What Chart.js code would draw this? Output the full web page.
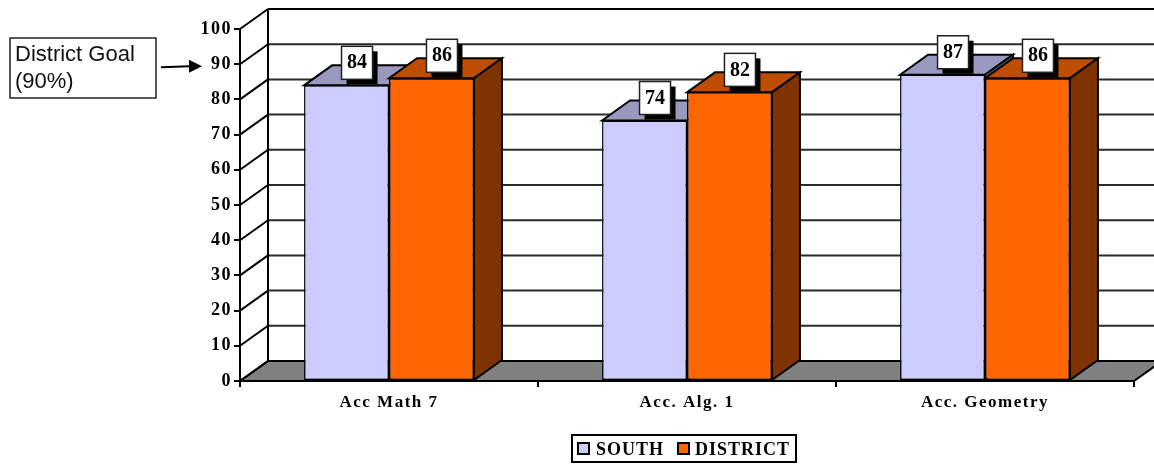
<!DOCTYPE html>
<html>
<head>
<meta charset="utf-8">
<style>
  html, body { margin: 0; padding: 0; background: #fff; }
  canvas { display: block; }
</style>
<script src="https://cdn.jsdelivr.net/npm/chart.js@4"></script>
</head>
<body>
<canvas id="chart" width="1154" height="464"></canvas>
<script>
const categories = ['Acc Math 7', 'Acc. Alg. 1', 'Acc. Geometry'];
const southValues = [84, 74, 87];
const districtValues = [86, 82, 86];
const goalValue = 90;
const goalLines = ['District Goal', '(90%)'];

const depthX = 28;
const depthY = 20;
const serif = '"Liberation Serif", serif';

function poly(ctx, pts, fill) {
  ctx.beginPath();
  pts.forEach((p, i) => (i ? ctx.lineTo(p[0], p[1]) : ctx.moveTo(p[0], p[1])));
  ctx.closePath();
  if (fill) {
    ctx.fillStyle = fill;
    ctx.fill();
  }
  ctx.stroke();
}

// 3D 벽, 바닥, 막대 옆면
const depthPlugin = {
  id: 'depth',
  beforeDraw(chart) {
    chart.ctx.letterSpacing = '1.5px';
  },
  beforeDatasetsDraw(chart) {
    const { ctx, chartArea: a, scales } = chart;
    const y = scales.y;
    ctx.save();
    ctx.letterSpacing = '0px';
    ctx.strokeStyle = '#000';
    ctx.lineWidth = 2;

    poly(ctx, [
      [a.left, a.bottom],
      [a.left + depthX, a.bottom - depthY],
      [a.right + depthX, a.bottom - depthY],
      [a.right, a.bottom],
    ], '#808080');

    y.ticks.forEach((t) => {
      const py = y.getPixelForValue(t.value);
      ctx.strokeStyle = '#000';
      ctx.beginPath();
      ctx.moveTo(a.left, py);
      ctx.lineTo(a.left + depthX, py - depthY);
      ctx.stroke();
      if (t.value > 0) {
        ctx.strokeStyle = t.value === 100 ? '#000' : '#2a2a2a';
        ctx.beginPath();
        ctx.moveTo(a.left + depthX, py - depthY);
        ctx.lineTo(a.right + depthX, py - depthY);
        ctx.stroke();
      }
    });
    ctx.strokeStyle = '#000';
    ctx.beginPath();
    ctx.moveTo(a.left + depthX, a.top - depthY);
    ctx.lineTo(a.left + depthX, a.bottom - depthY);
    ctx.stroke();

    chart.data.datasets.forEach((ds, di) => {
      chart.getDatasetMeta(di).data.forEach((bar) => {
        const l = bar.x - bar.width / 2;
        const r = bar.x + bar.width / 2;
        poly(ctx, [
          [l, bar.y],
          [l + depthX, bar.y - depthY],
          [r + depthX, bar.y - depthY],
          [r, bar.y],
        ], ds.topColor);
        poly(ctx, [
          [r, bar.y],
          [r + depthX, bar.y - depthY],
          [r + depthX, bar.base - depthY],
          [r, bar.base],
        ], ds.sideColor);
      });
    });
    ctx.restore();
  },
  afterDatasetsDraw(chart) {
    const { ctx, scales } = chart;
    ctx.save();
    ctx.letterSpacing = '0px';
    ctx.textAlign = 'center';
    ctx.textBaseline = 'middle';

    // 값 라벨
    chart.data.datasets.forEach((ds, di) => {
      chart.getDatasetMeta(di).data.forEach((bar, i) => {
        const cx = bar.x + 10;
        const cy = bar.y - 23;
        ctx.fillStyle = '#000';
        ctx.fillRect(cx - 10, cy - 11, 31, 33);
        ctx.fillStyle = '#fff';
        ctx.strokeStyle = '#222';
        ctx.lineWidth = 1.5;
        ctx.fillRect(cx - 15, cy - 16, 31, 33);
        ctx.strokeRect(cx - 15, cy - 16, 31, 33);
        ctx.fillStyle = '#000';
        ctx.font = 'bold 20px ' + serif;
        ctx.fillText(String(ds.data[i]), cx + 0.5, cy + 1);
      });
    });

    // 목표 설명 상자
    ctx.strokeStyle = '#222';
    ctx.lineWidth = 1.5;
    ctx.strokeRect(10, 38, 146, 60);
    ctx.textAlign = 'left';
    ctx.fillStyle = '#111';
    ctx.font = '22px "Liberation Sans", sans-serif';
    goalLines.forEach((line, i) => ctx.fillText(line, 15, 55 + i * 27));

    // 목표 화살표
    const goalY = scales.y.getPixelForValue(goalValue) + 2;
    ctx.strokeStyle = '#000';
    ctx.lineWidth = 2;
    ctx.beginPath();
    ctx.moveTo(161, goalY + 1);
    ctx.lineTo(190, goalY);
    ctx.stroke();
    ctx.fillStyle = '#000';
    ctx.beginPath();
    ctx.moveTo(202, goalY);
    ctx.lineTo(189, goalY - 6.5);
    ctx.lineTo(189, goalY + 6.5);
    ctx.closePath();
    ctx.fill();

    // 범례
    ctx.strokeStyle = '#000';
    ctx.lineWidth = 2;
    ctx.strokeRect(572, 435, 224, 27);
    const legendX = [[578, 596], [678, 695]];
    ctx.font = 'bold 18px ' + serif;
    ctx.letterSpacing = '1px';
    chart.data.datasets.forEach((ds, di) => {
      ctx.fillStyle = ds.backgroundColor;
      ctx.fillRect(legendX[di][0], 443, 11, 11);
      ctx.strokeRect(legendX[di][0], 443, 11, 11);
      ctx.fillStyle = '#000';
      ctx.fillText(ds.label, legendX[di][1], 450);
    });
    ctx.restore();
  },
};

new Chart(document.getElementById('chart'), {
  type: 'bar',
  data: {
    labels: categories,
    datasets: [
      {
        label: 'SOUTH',
        data: southValues,
        backgroundColor: '#CCCCFF',
        topColor: '#9999C0',
        sideColor: '#66668F',
        borderColor: '#000',
        borderWidth: 1.5,
        borderSkipped: false,
      },
      {
        label: 'DISTRICT',
        data: districtValues,
        backgroundColor: '#FF6600',
        topColor: '#BF4D00',
        sideColor: '#7F3300',
        borderColor: '#000',
        borderWidth: 1.5,
        borderSkipped: false,
      },
    ],
  },
  options: {
    responsive: false,
    animation: false,
    layout: { padding: { top: 29, right: 20, bottom: 53, left: 0 } },
    datasets: { bar: { categoryPercentage: 0.57, barPercentage: 1 } },
    plugins: { legend: { display: false }, tooltip: { enabled: false } },
    scales: {
      x: {
        afterFit(scale) {
          scale.height = 30;
        },
        grid: { drawOnChartArea: false, color: '#000', lineWidth: 2, tickLength: 6 },
        border: { color: '#000', width: 2 },
        ticks: {
          color: '#000',
          padding: 5,
          maxRotation: 0,
          font: { family: serif, size: 17, weight: 'bold' },
        },
      },
      y: {
        min: 0,
        max: 100,
        afterFit(scale) {
          scale.width = 240;
        },
        grid: { drawOnChartArea: false, color: '#000', lineWidth: 2, tickLength: 6 },
        border: { color: '#000', width: 2 },
        ticks: {
          stepSize: 10,
          color: '#000',
          padding: 2,
          font: { family: serif, size: 18, weight: 'bold' },
        },
      },
    },
  },
  plugins: [depthPlugin],
});
</script>
</body>
</html>
